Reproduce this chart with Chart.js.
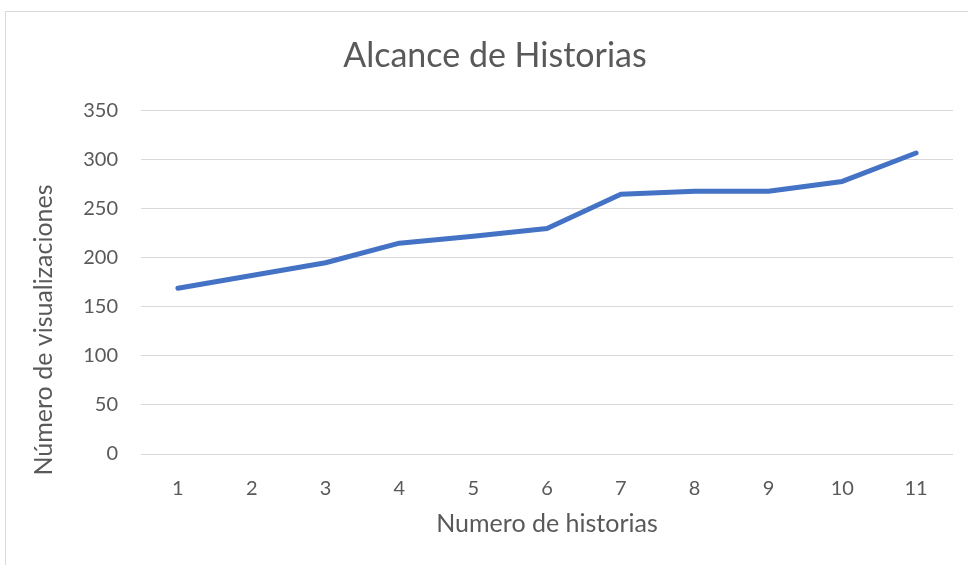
<!DOCTYPE html>
<html>
<head>
<meta charset="utf-8">
<script src="https://cdn.jsdelivr.net/npm/chart.js@4/dist/chart.umd.min.js"></script>
<style>
  html, body { margin: 0; padding: 0; background: #fff; }
  #wrap { position: relative; width: 968px; height: 565px; overflow: hidden; }
  #frame { position: absolute; left: 5px; top: 11px; width: 1000px; height: 600px; border: 1px solid #d9d9d9; box-sizing: border-box; }
  canvas { position: absolute; left: 0; top: 0; }
</style>
</head>
<body>
<div id="wrap">
  <div id="frame"></div>
  <canvas id="myChart" width="968" height="565"></canvas>
</div>
<script>
var historias = ['1', '2', '3', '4', '5', '6', '7', '8', '9', '10', '11'];
var visualizaciones = [169, 182, 195, 215, 222, 230, 265, 268, 268, 278, 307];
var yMax = 350;
var yStep = 50;

var grey = '#595959';
var fontFamily = 'Lato, "Open Sans", sans-serif';

// y axis title sits a bit below the middle in the original, so draw it by hand
var yTitlePlugin = {
    id: 'yTitle',
    afterDraw: function (chart) {
        var c = chart.ctx;
        c.save();
        c.translate(44, 330);
        c.rotate(-Math.PI / 2);
        c.fillStyle = grey;
        c.font = '25px ' + fontFamily;
        c.textAlign = 'center';
        c.textBaseline = 'middle';
        c.fillText('Número de visualizaciones', 0, 0);
        c.restore();
    }
};

function drawChart() {
    var ctx = document.getElementById('myChart').getContext('2d');
    new Chart(ctx, {
        type: 'line',
        data: {
            labels: historias,
            datasets: [{
                label: 'Visualizaciones',
                data: visualizaciones,
                borderColor: '#4472C4',
                backgroundColor: '#4472C4',
                borderWidth: 5,
                pointRadius: 0,
                tension: 0,
                borderCapStyle: 'round',
                borderJoinStyle: 'round'
            }]
        },
        plugins: [yTitlePlugin],
        options: {
            responsive: false,
            animation: false,
            layout: {
                padding: { left: 37, right: 15, top: 0, bottom: 26 }
            },
            plugins: {
                legend: { display: false },
                tooltip: { enabled: false },
                title: {
                    display: true,
                    text: 'Alcance de Historias',
                    color: grey,
                    font: { family: fontFamily, size: 34, weight: 'normal' },
                    padding: { top: 36, bottom: 34 }
                }
            },
            scales: {
                x: {
                    offset: true,
                    grid: { display: false, drawTicks: false },
                    border: { display: false },
                    ticks: {
                        color: grey,
                        font: { family: fontFamily, size: 20 },
                        padding: 23
                    },
                    title: {
                        display: true,
                        text: 'Numero de historias',
                        color: grey,
                        font: { family: fontFamily, size: 25 },
                        padding: { top: -15, bottom: 0 }
                    }
                },
                y: {
                    min: 0,
                    max: yMax,
                    afterFit: function (scale) { scale.width = 104; },
                    grid: { color: '#d9d9d9', lineWidth: 1, drawTicks: false },
                    border: { display: false },
                    ticks: {
                        stepSize: yStep,
                        color: grey,
                        font: { family: fontFamily, size: 20 },
                        padding: 23
                    }
                }
            }
        }
    });
}

drawChart();
</script>
</body>
</html>
